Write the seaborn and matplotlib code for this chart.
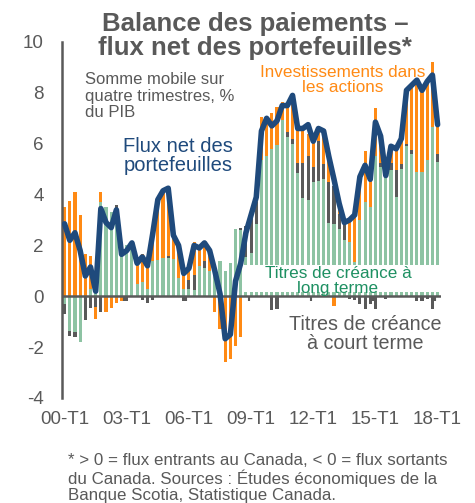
import numpy as np
import matplotlib
matplotlib.use("Agg")
import matplotlib.pyplot as plt
import seaborn as sns
from matplotlib.patches import Rectangle

# quarterly data 2000-T1 .. 2018-T1, % of GDP (4-quarter rolling sum)
quarters = [f"{y % 100:02d}-T{q}" for y in range(2000, 2019) for q in range(1, 5)][:73]

long_term = [-0.3, -1.35, -1.4, -1.8, 0.0, 0.3, 0.9, 3.7, 3.5, 3.3, 3.45, 1.9,
             2.0, 2.1, 0.5, 0.55, 0.3, 1.4, 1.42, 1.5, 1.5, 1.45, 0.7, 0.3,
             0.3, 0.25, 1.2, 1.1, 1.0, 1.2, 1.4, 1.0, 1.3, 2.65, 2.6, 1.55,
             1.7, 2.85, 5.35, 5.5, 5.8, 5.95, 6.95, 6.25, 6.0, 4.85, 3.85, 3.8,
             4.5, 4.55, 4.6, 2.9, 2.85, 2.65, 2.2, 2.15, 1.35, 3.0, 3.7, 3.5,
             5.5, 5.1, 4.85, 4.95, 3.9, 5.0, 5.9, 5.6, 4.9, 4.9, 5.35, 6.65,
             5.3]
equities = [3.5, 3.75, 4.1, 3.2, 1.65, 1.3, -0.47, 0.4, -0.6, -0.45, -0.25, -0.2,
            0.0, 0.0, 0.8, 1.1, 1.1, 1.1, 2.43, 2.7, 2.75, 1.15, 1.25, 0.6,
            0.5, 1.3, 0.8, 0.65, 0.8, -0.6, -1.1, -2.6, -2.45, -1.95, -1.6, 0.0,
            0.0, 0.2, 1.7, 1.6, 1.4, 1.5, 0.7, 1.2, 1.65, 1.3, 1.3, 0.9,
            1.0, 0.5, 1.3, 0.9, -0.4, 0.4, 0.0, 0.85, 1.85, 1.7, 2.0, 1.3,
            1.9, 1.0, 0.0, 0.5, 0.8, 1.45, 2.1, 2.65, 3.65, 3.2, 3.15, 2.55,
            1.05]
short_term = [-0.4, -0.2, -0.2, 0.0, -0.95, -0.45, -0.43, -0.6, 0.0, 0.0, 0.15, 0.0,
              -0.2, 0.0, 0.0, -0.15, -0.25, -0.15, 0.0, 0.0, 0.1, 0.0, 0.0, -0.2,
              0.35, 0.6, 0.0, 0.3, 0.0, 0.0, -0.2, 0.0, 0.0, 0.0, 0.1, 1.2,
              1.7, 0.85, 0.0, 0.0, -0.55, -0.5, 0.0, 0.2, 0.2, 0.4, 1.4, 1.7,
              0.6, 1.55, 0.6, 1.6, 1.5, 0.6, 0.7, -0.1, -0.15, -0.3, -0.5, -0.3,
              -0.5, 0.15, -0.1, 0.3, 1.05, 0.2, 0.1, 0.15, -0.2, -0.2, -0.1, -0.5,
              0.3]
net_flow = [2.85, 2.2, 2.5, 1.8, 0.8, 1.15, 0.2, 3.45, 2.9, 2.7, 3.4, 1.65,
            1.8, 2.1, 1.3, 1.55, 1.2, 2.45, 3.8, 4.15, 4.25, 2.4, 2.0, 0.9,
            1.1, 2.0, 1.9, 2.1, 1.8, 1.0, 0.1, -1.67, -1.5, 0.6, 1.3, 2.5,
            3.2, 3.9, 6.5, 7.0, 6.7, 6.9, 7.5, 7.5, 7.9, 6.6, 6.6, 6.75,
            6.1, 6.6, 6.5, 5.5, 4.6, 3.65, 2.9, 3.0, 3.2, 4.7, 5.15, 4.6,
            6.85, 6.3, 4.75, 5.9, 5.8, 6.2, 8.1, 8.3, 8.5, 8.1, 8.45, 8.7,
            6.75]

GREY = "#595959"
GREEN = "#8DC3A3"
ORANGE = "#FF8A14"
DARK = "#595959"
NAVY = "#1F4A7C"

sns.set_style("white")
plt.rcParams["font.family"] = ["Liberation Sans", "DejaVu Sans"]
plt.rcParams["axes.unicode_minus"] = False

W, H = 475, 503
fig = plt.figure(figsize=(W / 100, H / 100), dpi=100)
ax = fig.add_axes([62 / W, 105 / H, 378.7 / W, 356 / H])

idx = np.arange(len(quarters))
pos = np.zeros(len(idx))
neg = np.zeros(len(idx))
for vals, col in [(long_term, GREEN), (short_term, DARK), (equities, ORANGE)]:
    v = np.array(vals)
    bottom = np.where(v >= 0, pos, neg)
    ax.bar(idx, v, bottom=bottom, width=0.6, color=col, linewidth=0, zorder=2)
    pos += np.clip(v, 0, None)
    neg += np.clip(v, None, 0)

ax.axhline(0, color=GREY, lw=1.8, zorder=2.5)
ax.vlines(np.arange(11.5, 72, 12), -0.17, 0, color=GREY, lw=1.5, zorder=2.5)

# white box behind the long-term label
ax.add_patch(Rectangle((34.4, 0.16), 37.9, 1.06, facecolor="white",
                       edgecolor="none", zorder=3))

sns.lineplot(x=idx, y=net_flow, ax=ax, color=NAVY, linewidth=4, zorder=4,
             solid_capstyle="round", solid_joinstyle="round")

ax.set_xlim(-0.5, 72.6)
ax.set_ylim(-4, 10)
ax.set_yticks(range(-4, 11, 2))
ax.set_xticks(idx[::12])
ax.set_xticklabels(quarters[::12])
ax.tick_params(axis="y", direction="in", length=4, width=1.5, color=GREY,
               labelcolor=GREY, labelsize=13.5, pad=13)
ax.tick_params(axis="x", length=0, labelcolor=GREY, labelsize=13.5, pad=9)
for s in ["top", "right", "bottom"]:
    ax.spines[s].set_visible(False)
ax.spines["left"].set_color(GREY)
ax.spines["left"].set_linewidth(1.8)
ax.set_xlabel("")
ax.set_ylabel("")


def fx(px):
    return px / W


def fy(py):
    return 1 - py / H


fig.text(fx(255), fy(36), "Balance des paiements –\nflux net des portefeuilles*",
         ha="center", va="center", fontsize=18.5, fontweight="bold", color=GREY,
         linespacing=1.05)
fig.text(fx(85), fy(96), "Somme mobile sur\nquatre trimestres, %\ndu PIB",
         ha="left", va="center", fontsize=12, color=GREY, linespacing=1.1)
fig.text(fx(178), fy(156), "Flux net des\nportefeuilles", ha="center", va="center",
         fontsize=14.5, color=NAVY, linespacing=1.05)
fig.text(fx(343), fy(80), "Investissements dans\nles actions", ha="center",
         va="center", fontsize=12.3, color=ORANGE, linespacing=1.0)
fig.text(fx(338), fy(281), "Titres de créance à\nlong terme", ha="center",
         va="center", fontsize=12.3, color="#1E9062", linespacing=1.02, zorder=6)
fig.text(fx(365), fy(334), "Titres de créance\nà court terme", ha="center",
         va="center", fontsize=14.2, color=GREY, linespacing=1.05)
fig.text(fx(68), fy(478),
         "* > 0 = flux entrants au Canada, < 0 = flux sortants\n"
         "du Canada. Sources : Études économiques de la\n"
         "Banque Scotia, Statistique Canada.",
         ha="left", va="center", fontsize=12.2, color=GREY, linespacing=1.07)

fig.savefig("out.png", dpi=100)
